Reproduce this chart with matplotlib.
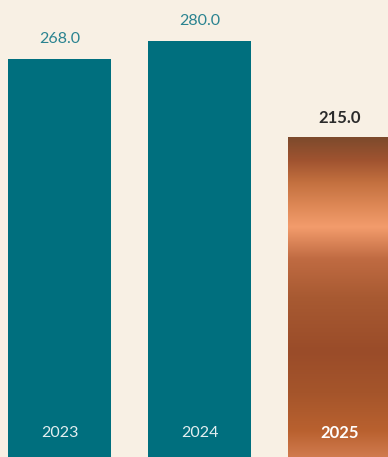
import numpy as np
import matplotlib.pyplot as plt
from matplotlib.colors import LinearSegmentedColormap

plt.rcParams['font.family'] = ['Lato', 'DejaVu Sans']

years = ["2023", "2024", "2025"]
values = [268.0, 280.0, 215.0]

bg = "#f8f0e4"
teal = "#006f7e"
label_teal = "#2a8390"

# copper gradient, bottom (0) -> top (1) of the last bar
copper_stops = [
    (0.00, "#d07a4e"),
    (0.08, "#b9612f"),
    (0.20, "#a5552b"),
    (0.33, "#9a4c29"),
    (0.50, "#a85a32"),
    (0.62, "#c06b42"),
    (0.72, "#f39c6c"),
    (0.78, "#e08a58"),
    (0.86, "#c3703f"),
    (0.93, "#9f5330"),
    (1.00, "#7d4a2c"),
]
copper = LinearSegmentedColormap.from_list("copper_bar", copper_stops)

fig = plt.figure(figsize=(3.88, 4.57), dpi=100, facecolor=bg)
ax = fig.add_axes([0, 0, 1, 1])
ax.set_facecolor(bg)

x = np.arange(len(years))
w = 0.736
bars = ax.bar(x, values, width=w, color=[teal, teal, "none"], edgecolor="none")

# gradient fill for 2025
b = bars[2]
grad = np.linspace(0, 1, 256).reshape(-1, 1)
img = ax.imshow(grad, cmap=copper, origin="lower", aspect="auto",
                extent=[b.get_x(), b.get_x() + b.get_width(), 0, b.get_height()],
                zorder=1)
img.set_clip_path(b)

ax.set_xlim(-0.425, 2.346)
ax.set_ylim(0, 307.5)
ax.axis("off")

for i, (yr, v) in enumerate(zip(years, values)):
    last = i == len(years) - 1
    ax.annotate(f"{v:.1f}", (x[i], v), xytext=(0, 14), textcoords="offset points",
                ha="center", va="center", fontsize=12 if last else 11.5,
                color="#2b2b2b" if last else label_teal,
                fontweight="bold" if last else "normal")
    ax.annotate(yr, (x[i], 0), xytext=(0, 17.3), textcoords="offset points",
                ha="center", va="center", fontsize=12 if last else 11.5,
                color="white" if last else "#e3eef0",
                fontweight="bold" if last else "normal", zorder=3)

fig.savefig("out.png", dpi=100, facecolor=bg)
